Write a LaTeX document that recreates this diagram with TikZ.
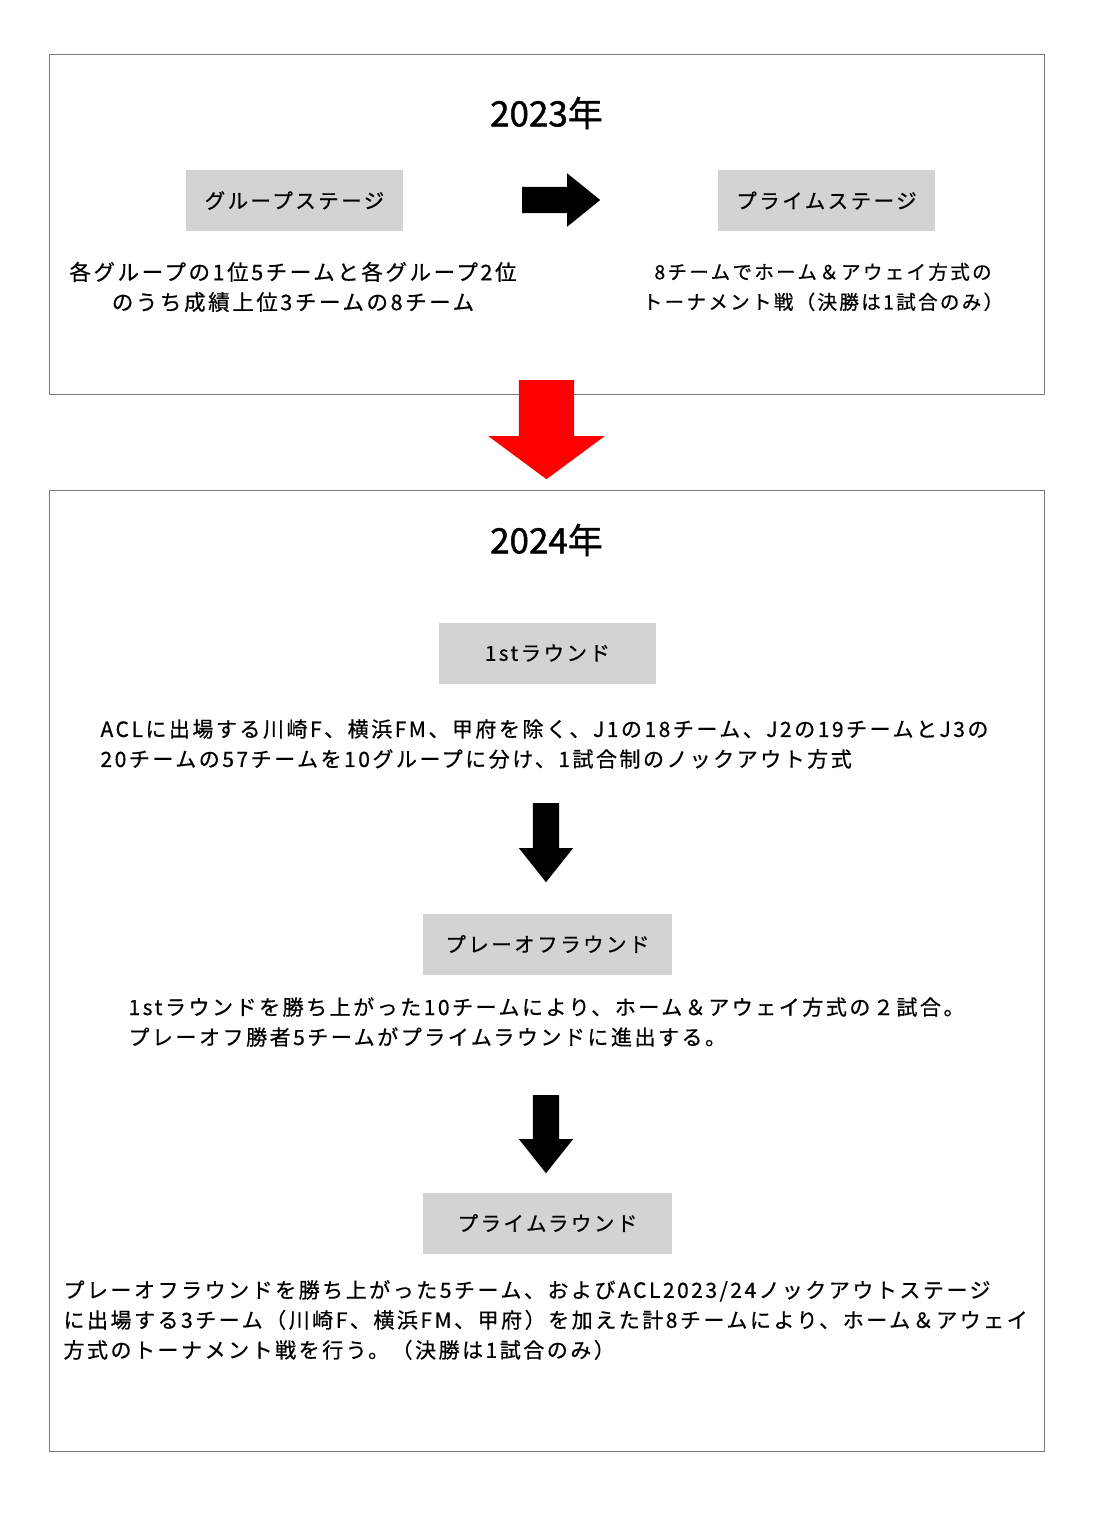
\documentclass[tikz,border=0pt]{standalone}
\usepackage{fontspec}
\setmainfont{Noto Sans CJK JP}[LetterSpace=12, FakeBold=0.6]
\newfontfamily\yearfont{Noto Sans CJK JP}[FakeBold=1.2]
\usetikzlibrary{shapes,arrows}
\definecolor{boxgray}{HTML}{D3D3D3}
\definecolor{framegray}{HTML}{7A7A7A}

\begin{document}
\begin{tikzpicture}[x=1pt,y=-1pt,
    stage/.style={rectangle, fill=boxgray, minimum width=217, minimum height=61},
    frame/.style={rectangle, draw=framegray, line width=0.9pt, minimum width=995},
    blockarrow/.style={single arrow, draw=none, inner xsep=0pt, minimum width=1pt}]

      \useasboundingbox (0,0) rectangle (1093,1519);
      \fill[white] (0,0) rectangle (1093,1519);

      % 2023
      \node[frame, minimum height=340] (y2023) at (546.5,224) {};
      \node[font=\fontsize{35}{40}\selectfont\yearfont] (t2023) at (546.5,113) {2023年};

      \node[stage] (GS) at (294.5,200.5) {};
      \node[font=\fontsize{20.5}{24}\selectfont] at (GS.center) {グループステージ};

      \node[stage] (PS) at (826.5,200.5) {};
      \node[font=\fontsize{20.5}{24}\selectfont] at (PS.center) {プライムステージ};

      \node[blockarrow, fill=black,
            minimum height=78,
            inner ysep=13pt,
            single arrow head extend=13.5pt,
            single arrow tip angle=78,
            anchor=tail] (GStoPS) at (522,200) {};

      \node[align=center, font=\fontsize{21.5}{30}\selectfont] (GStxt) at (293,287)
        {各グループの1位5チームと各グループ2位\\のうち成績上位3チームの8チーム};
      \node[align=center, font=\fontsize{19.5}{30}\selectfont] (PStxt) at (823,287)
        {8チームでホーム＆アウェイ方式の\\トーナメント戦（決勝は1試合のみ）};

      % 2023 -> 2024
      \node[blockarrow, fill=red, rotate=-90,
            minimum height=99,
            inner ysep=27.5pt,
            single arrow head extend=30.5pt,
            single arrow tip angle=107,
            anchor=tail] (change) at (546.5,380) {};

      % 2024
      \node[frame, minimum height=961] (y2024) at (546.5,970.5) {};
      \node[font=\fontsize{35}{40}\selectfont\yearfont] (t2024) at (546.5,540) {2024年};

      \node[stage] (R1) at (547.5,653) {};
      \node[font=\fontsize{20.5}{24}\selectfont] at (R1.center) {1stラウンド};
      \node[anchor=west, align=left, font=\fontsize{21}{30}\selectfont] (R1txt) at (97,744)
        {ACLに出場する川崎F、横浜FM、甲府を除く、J1の18チーム、J2の19チームとJ3の\\20チームの57チームを10グループに分け、1試合制のノックアウト方式};

      \node[blockarrow, fill=black, rotate=-90,
            minimum height=79,
            inner ysep=13pt,
            single arrow head extend=14pt,
            single arrow tip angle=77,
            anchor=tail] (R1toPO) at (546,803) {};

      \node[stage, minimum width=249] (PO) at (547.5,944) {};
      \node[font=\fontsize{20.5}{24}\selectfont] at (PO.center) {プレーオフラウンド};
      \node[anchor=west, align=left, font=\fontsize{21}{30}\selectfont] (POtxt) at (125,1022)
        {1stラウンドを勝ち上がった10チームにより、ホーム＆アウェイ方式の２試合。\\プレーオフ勝者5チームがプライムラウンドに進出する。};

      \node[blockarrow, fill=black, rotate=-90,
            minimum height=78,
            inner ysep=13pt,
            single arrow head extend=14pt,
            single arrow tip angle=77,
            anchor=tail] (POtoPR) at (546,1095) {};

      \node[stage, minimum width=249] (PR) at (547.5,1223) {};
      \node[font=\fontsize{20.5}{24}\selectfont] at (PR.center) {プライムラウンド};
      \node[anchor=west, align=left, font=\fontsize{21}{30}\selectfont] (PRtxt) at (60,1320)
        {プレーオフラウンドを勝ち上がった5チーム、およびACL2023/24ノックアウトステージ\\に出場する3チーム（川崎F、横浜FM、甲府）を加えた計8チームにより、ホーム＆アウェイ\\方式のトーナメント戦を行う。（決勝は1試合のみ）};

  \end{tikzpicture}
\end{document}
